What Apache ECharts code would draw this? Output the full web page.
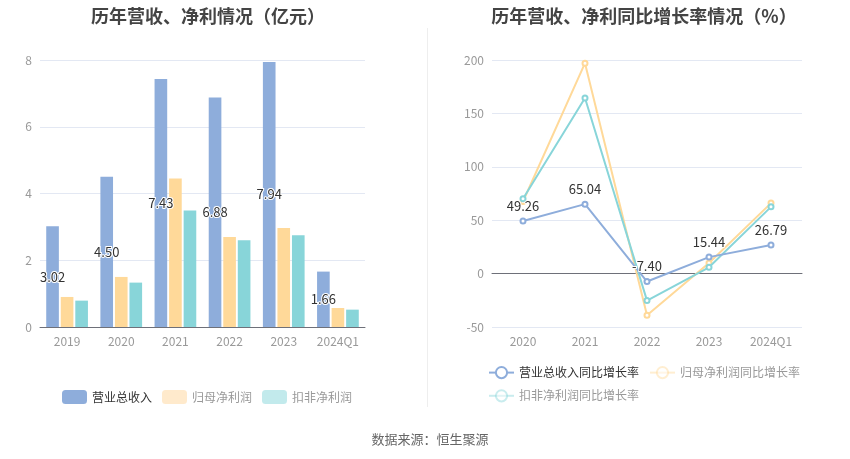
<!DOCTYPE html>
<html>
<head>
<meta charset="utf-8">
<script src="https://cdn.jsdelivr.net/npm/echarts@6/dist/echarts.min.js"></script>
<style>html,body{margin:0;padding:0;background:#fff}#c{width:850px;height:459px}</style>
</head>
<body>
<div id="c"></div>
<script>
var barCategories = ['2019', '2020', '2021', '2022', '2023', '2024Q1'];
var revenue = [3.02, 4.50, 7.43, 6.88, 7.94, 1.66];
var netProfit = [0.90, 1.50, 4.45, 2.70, 2.97, 0.57];
var deductedProfit = [0.79, 1.33, 3.49, 2.60, 2.75, 0.52];

var lineCategories = ['2020', '2021', '2022', '2023', '2024Q1'];
var revenueGrowth = [49.26, 65.04, -7.40, 15.44, 26.79];
var netProfitGrowth = [67.5, 197, -39, 10, 66];
var deductedGrowth = [70, 164.4, -25.3, 5.9, 62.5];

var FONT = '"Noto Sans CJK SC", "Noto Sans", sans-serif';
var C1 = '#8EADDB', C2 = '#FFD999', C3 = '#88D5D9';
var C2L = '#FFEACC', C3L = '#C2EAEC';

var chart = echarts.init(document.getElementById('c'));
var axisLabel = {color: '#999', fontSize: 12, fontFamily: FONT, interval: 0};
var splitLine = {lineStyle: {color: '#E3E8F3'}};
var axisLine = {lineStyle: {color: '#6E7079'}};

chart.setOption({
  animation: false,
  textStyle: {fontFamily: FONT},
  title: [
    {text: '历年营收、净利情况（亿元）', left: 203, top: 2, textAlign: 'center',
     textStyle: {fontSize: 18, fontWeight: 'bold', color: '#444', fontFamily: FONT}},
    {text: '历年营收、净利同比增长率情况（%）', left: 639, top: 2, textAlign: 'center',
     textStyle: {fontSize: 18, fontWeight: 'bold', color: '#444', fontFamily: FONT}},
    {text: '数据来源：恒生聚源', left: 425, top: 428, textAlign: 'center',
     textStyle: {fontSize: 13, fontWeight: 'normal', color: '#666', fontFamily: FONT}}
  ],
  graphic: [{
    type: 'line', shape: {x1: 427.5, y1: 28, x2: 427.5, y2: 407},
    style: {stroke: '#EEEEEE', lineWidth: 1}
  }],
  legend: [
    {left: 57, top: 385, itemWidth: 25, itemHeight: 14, itemGap: 10,
     textStyle: {fontSize: 12, color: '#333', fontFamily: FONT},
     data: [
       {name: '营业总收入', itemStyle: {color: C1}},
       {name: '归母净利润', itemStyle: {color: C2L}, textStyle: {color: '#999'}},
       {name: '扣非净利润', itemStyle: {color: C3L}, textStyle: {color: '#999'}}
     ]},
    {left: 483, top: 361, width: 322, itemWidth: 25, itemHeight: 14, itemGap: 10,
     textStyle: {fontSize: 12, color: '#333', fontFamily: FONT},
     data: [
       {name: '营业总收入同比增长率'},
       {name: '归母净利润同比增长率', itemStyle: {opacity: 0.45}, lineStyle: {opacity: 0.45}, textStyle: {color: '#999'}},
       {name: '扣非净利润同比增长率', itemStyle: {opacity: 0.45}, lineStyle: {opacity: 0.45}, textStyle: {color: '#999'}}
     ]}
  ],
  grid: [
    {left: 40, right: 485, top: 60, bottom: 132},
    {left: 492, right: 48, top: 60, bottom: 132}
  ],
  xAxis: [
    {type: 'category', gridIndex: 0, data: barCategories, axisLabel: axisLabel,
     axisLine: axisLine, axisTick: {alignWithLabel: true, lineStyle: {color: '#6E7079'}}},
    {type: 'category', gridIndex: 1, data: lineCategories, axisLabel: axisLabel,
     axisLine: axisLine, axisTick: {alignWithLabel: true, lineStyle: {color: '#6E7079'}}}
  ],
  yAxis: [
    {type: 'value', gridIndex: 0, min: 0, max: 8, interval: 2, axisLabel: axisLabel,
     splitLine: splitLine, axisLine: {show: false}, axisTick: {show: false}},
    {type: 'value', gridIndex: 1, min: -50, max: 200, interval: 50, axisLabel: axisLabel,
     splitLine: splitLine, axisLine: {show: false}, axisTick: {show: false}}
  ],
  series: [
    {name: '营业总收入', type: 'bar', xAxisIndex: 0, yAxisIndex: 0, data: revenue,
     barCategoryGap: '23%', barGap: '15%',
     itemStyle: {color: C1},
     label: {show: true, position: 'inside', color: '#333', fontSize: 13,
             textBorderColor: '#fff', textBorderWidth: 2, fontFamily: FONT,
             formatter: function (p) { return p.value.toFixed(2); }}},
    {name: '归母净利润', type: 'bar', xAxisIndex: 0, yAxisIndex: 0, data: netProfit,
     barCategoryGap: '23%', barGap: '15%', itemStyle: {color: C2}},
    {name: '扣非净利润', type: 'bar', xAxisIndex: 0, yAxisIndex: 0, data: deductedProfit,
     barCategoryGap: '23%', barGap: '15%', itemStyle: {color: C3}},
    {name: '归母净利润同比增长率', type: 'line', xAxisIndex: 1, yAxisIndex: 1, data: netProfitGrowth,
     symbol: 'emptyCircle', symbolSize: 5, lineStyle: {width: 2, color: C2}, itemStyle: {color: C2}, z: 2},
    {name: '扣非净利润同比增长率', type: 'line', xAxisIndex: 1, yAxisIndex: 1, data: deductedGrowth,
     symbol: 'emptyCircle', symbolSize: 5, lineStyle: {width: 2, color: C3}, itemStyle: {color: C3}, z: 3},
    {name: '营业总收入同比增长率', type: 'line', xAxisIndex: 1, yAxisIndex: 1, data: revenueGrowth,
     symbol: 'emptyCircle', symbolSize: 5, lineStyle: {width: 2, color: C1}, itemStyle: {color: C1}, z: 4,
     label: {show: true, position: 'top', color: '#333', fontSize: 13,
             textBorderColor: '#fff', textBorderWidth: 2, fontFamily: FONT,
             formatter: function (p) { return p.value.toFixed(2); }}}
  ]
});
</script>
</body>
</html>
